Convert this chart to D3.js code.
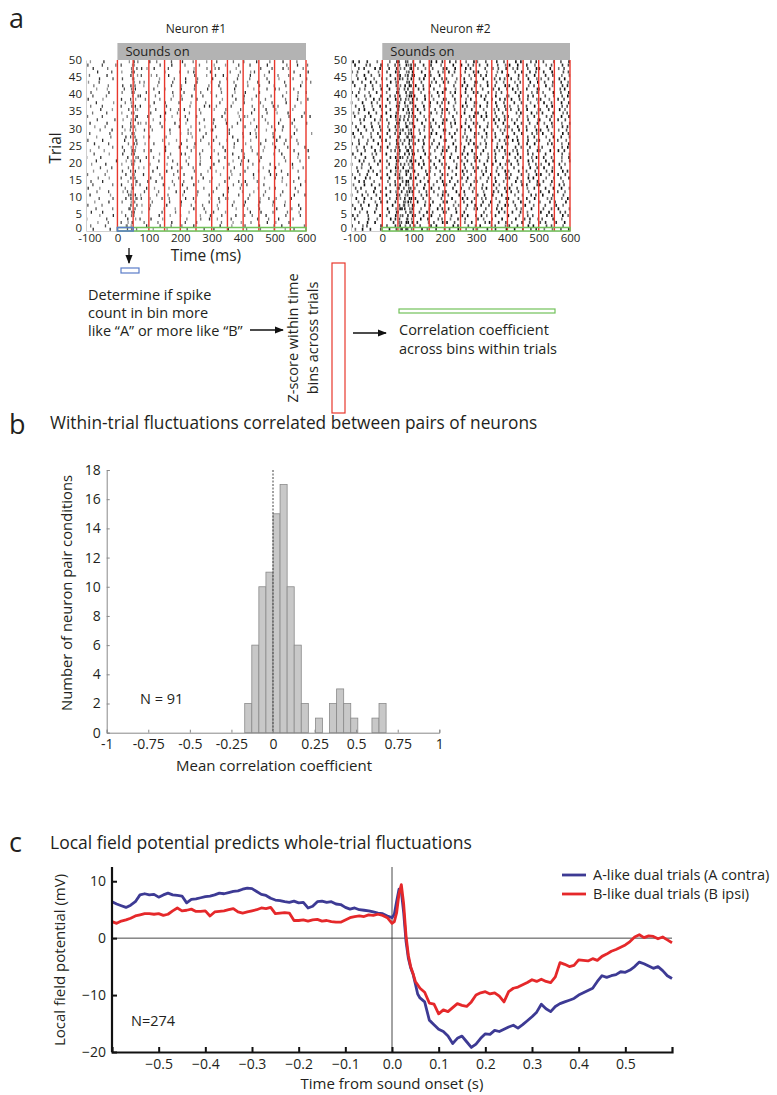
<!DOCTYPE html>
<html>
<head>
<meta charset="utf-8">
<script src="https://cdn.jsdelivr.net/npm/d3@7"></script>
<style>
  body { margin: 0; background: #fff; }
  svg text { font-family: "Open Sans", "Noto Sans", sans-serif; fill: #231f20; }
</style>
</head>
<body>
<svg id="fig" width="777" height="1095"></svg>
<script>
// ---------- panel a: spike rasters (10 ms bins from -100 ms, digit = ms offset in bin)
const neuron1 = [
  "..3....7.....25.1....4...8......2....6..7....3.....1...5...9...4..2...",
  ".5....2.....814....3...6...1..5...3.......7...4...6....2...8..3......5",
  "...8...1...2.47...5...9....3...6...2.......1..8..4..5....7..4...6.....",
  "2.....6......3.8.2..7...4.......1...5..3.8....2.......6...1..3...9....",
  "....4...7...6.52.......3..8...1.....4..6...2...7..5.9....3.....6....2.",
  ".7...3.....4..63.8......2...5...8.....1.6...4.......3..7...5....1..8..",
  "...2....5....716....2...9...4.....3..6....1....8...4...2....7....5..3.",
  "6....1........3.28..5....7....2..5...1...8....6...3...9....4...2...7...",
  "..8....3...5..45.....1....6...3...8....2..5....1..7....3...6...4......",
  "....2...6...7.3826..4...2.5....7..2....9..3.51.....6...4..2.5....3....",
  ".3.....8.....637.4....5...1...8....4...2...7....6...1...5....9....3..7",
  "...5...2...8.24...6....1....7..3...6....5....2...8...4...1....6....5..",
  "7...4.......5.71...3.8....4.....2....5...6...3...1....8...4.2.....6...",
  "..2.....5..3..58.2......6...1.7...3.......4...9..5.2....6......8....3.",
  ".6...3.......4.92..7..3....5...1...8...4....2...6.7...5.......4...1..8",
  "...9...4...2..36....6...2....5...7...3..1....6.......4..8...2.5....7..",
  "5.....1.....7.84..3....5...9...2....6.....8...4..1...3....7.6...2.....",
  "..4...8....6..27.....3...7...2....5...8..4....1...6...9...3...2....5..",
  "....6...2....5.18.4...7....3..5...1....6...8...2...5....4...3....8...1",
  ".8....3....4..62....4....8...1..6...3...7....5...2...1....6..4...7....",
  "...3.....7..8.45.3.....2...6...9....4.....3...8..5.7...2.......5....1.",
  "2...7........3.96..2.5....1.....8...4..7....2...6.3....7.......1...4..9",
  "..6....4...7..53.......4..9...36....2.....1...7...4...5....8..3....6...",
  ".4...8......2.76..5.7....3.......5...1..8...3....6..9...4....5....2...7",
  "....1...5..6..48.........3...7..2.4....9...6...1....5...8...3...2....7...",
  "..7....2.....5.32.8..6....4...3...7....1..5....2..8....6...4...1...5..",
  "6....3......3..81.......4...8...1...5...6...9...3...4....2..7..6...1...",
  "...4...9....7.26..4.2....5.......8...3...5....7...1...2....6.7...4.....",
  ".2.....6...5..74..........8...1.54....2......6...9..3.1....5......3....8.",
  "....5...3...4.18..6..1....7.....5...2..93....6.......8...4..2.5....1...",
  "..8...1....6..35....5...2....7...4...8...2....5...6...3....1..7...4...",
  ".3....7.......2.64.1...6....3..8....1...5...7...2...4....9...3...6....2",
  "...6.....2.8..47.....4...1...8..3....6..7...4....2...5...1...9....3...",
  "5....2.......1.93..7...7...4...6...2.......3....8.54....1.......6...7..3",
  "..1...6....4..52....6....3...1..9...5.......2...4...7....6..8...3....5.",
  "....7...4....6.84.....2...9..5.3....1...8...5....2...6...3..4....8....",
  ".5...2.....2..67.3..4....6.......1...7.3.5....2.....9...4..6.1....5...",
  "...3....8...5.41.....7...2...6...4....1...6...8...3....5...2...7....4.",
  "7....4.....3..28..9....5...1..6....3.......4...7..2.8....1.....5...3..6",
  "..2...5.......8.63....1....8..4..7...2...5....6...3...2...9...6....4...",
  ".6.....3...5..74...2...3...6...2....5..8...1...4..7....2.......8...5..1",
  "...4..8.....2.57.....6...1....3...5...7...9....3.....4...6..25....1....",
  "..5....1...7..36..4...8....2..4...6....1..3....7...5...2...9...6....3.",
  "8...2..........4.15....2...6...7...3...9..6....1...4..7...3....2....8..5",
  "....3...6..6..82.......4....1..7...5....3...8...2...1....6...4...9....2",
  ".1....7.......3.46..8.5...3.......6...4..2.7....5...3...8....1..5...2...",
  "...7....2..4..63.........1...8..5.3....6.....9...1..46....3.......2...7...",
  "..3...9.......5.27.4.7....2.......4...5..13....8.......6...2..7.4....1...",
  "6....2...5.2..84.......6...3...5....1...8...4...6...2....7.....9...3..5",
  ".4...7.......8.35...3.5....2..7...1...4..6....9...2...3...5...7....1..."
];
const neuron2 = [
  ".4.7..2..5..3.583614..7.4..2.9.5..3.8..14..6..2..7..3.9..5.2.8..4..1.6",
  "3..8.1...6.5..27.49.4.1..6.3....7.2..5.8.3..9.1..46..2..7.3...5.1..8..",
  "..5..3.7.....6.41736.2..8.5..37..1..4.6...9.3..2.5.4..7..1..5.2..6..3.",
  ".2...6..4...7.25.814..3.6..9.1.8..2.5...6.4..1..3...7..5.2.8.1..6..4..",
  "6.1..5...3.4..385.275..2.7..4...1..6.3.9.7.4..2...3..8..5.1...6.2..7.4",
  "..8..2.6....2.61.594.9..3.1..64..7..2.....5.8..3.1.6..2.4...7..3..9.5.",
  ".3.6....1..7..473286..4..1.7.2.2.5..8..43..1..6.2...9.4..7...5..1.3..8",
  "5..2.7..3....3.581471..6.3..5...8.4..2.7.6..1.9..32.5..7..4...1..6.8..",
  "..4.1..8.6.6..2.9431.3.8..2..57..4..1.6...2.7..5.8.9..3..1..4..6.2..7.",
  ".7..3.5..2..4.68.2736..1.4..9...3..7.2.5.8.1..4..63..5..2.7...8.1..4.3",
  "2..6.4..1..3..75.418..5.2..8.3.1..6.4...5.7..3..2...4.8..6.1.3..5..9..",
  "..1.8..3.5..6.4.2976.8..1.5..43..7..2.9...4..6.1.7.2.5..8...6..3..1.4.",
  ".5.2...7...2..839.514..3.7..1...6..2.8.4.9.3..5..27..1..4.6...2.7..3.8",
  "8...3.6..1..5.27.648.1.6..4..75..2.8..3...1..6.4.9.4..7.2..53..8..6.1.",
  "..6.2..4...8..1.5739..2.7..5.3.6..1.9..42..5..3.8...7.4..1.6.5..2..8..",
  ".3..7.1..6..3.964.827..4.1..6...2..5.3.8.4.9..1..56..2..7.3...4.8..1.7",
  "4.8..2..3..6..25.7.1.5..3.8..29..6..1.4...3.7..2.6.1..5.8..37..4..2.5.",
  "..2..6.1.4..7.48.6393..9.2..5...4..7.1.6.8.2..5..34..6..1.9...5.3..7.2",
  ".9.4..3....4..317.85..6..4.2.8.3.7..5..16..2..8.4...1.9..3.5.7..4..2..",
  "2..5.8..6...2.59.146.7.3..6..14..8..2.5...6..3.7.4.2.5..9..18..3..6.4.",
  "..7.1..5.3.5..62.8936..1.5..3...9..4.2.7.1.6..3..85..2..7.1...3.6..4.9",
  ".4..6..2....6.375.14..3.8..1.6.7..2.5..43..9..1.6...5.2..8.3.6..1..4.7",
  "6..3..8.1..3..84.2672..7.4..9...1..6.3.5.5.8..2..47..3..6.1...2.9..5.8",
  "..1.5..7.4..8.16.935.4.2..8..36..5..1.7...3..9.4.2.8.1..5..64..7..3.2.",
  ".8..2.6..5.7..43.581..9..2.6.4.2.6..3..85..1..7.3...6.4..2.9.1..8..5.3",
  "3.6..1..7...4.725.685..3.9..2...7..1.6.3.4.2..8..51..6..3.7...9.2..4.6",
  "..5..4.2.9.2..68.174.6.1..5..83..4..9.2...8..2.5.1.7.3..6..42..5..1.8.",
  ".1.8..5..3..5.93.8264..6.2..7...3..8.1.5.9.4..2..73..1..5.6...4.7..2.8",
  "7..2..4.6..6..17.453..1..7.3.9.5.2..4..68..3..1.5...2.6..9.4.3..1..7.5",
  "..3.9..1.5..3.586.42.8.4..1..62..9..5.3...6..4.8.1.5.7..2..36..1..4.9.",
  ".6..3.7..2.8..24.7193..5.6..2...1..3.7.8.2.6..9..45..3..1.8...7.4..6.2",
  "4..1..5.8...1.73.586..7..4.1.3.9.3..6..24..8..2.7...3.5..1.6.8..2..4.9",
  "..9.2..6.4.5..469.28.2.9..3..56..1..8.4...5..7.3.2.4.1..6..83..6..2.5.",
  ".2..5.3..7..7.38.1545..4.1..8...6..2.9.3.7.3..5..12..8..4.6...5.1..3.7",
  "8.4..7..1..3..51.867..2..6.4.1.4.8..3..76..2..1.5...9.3..7.4.2..6..8.1",
  "..6.3..2.8..6.927.35.3.5..9..27..1..4.6...4..8.2.5.1.6..3..95..2..7.4.",
  ".5..1.8..3.2..63.4186..3.2..5...8..7.1.4.3.5..6..28..4..1.7...6.3..5.1",
  "2..7..6.4...4.85.296..8..3.6.1.2.4..7..51..6..3.9...2.5..4.8.7..1..3.6",
  "..4.8..3.1.7..39.547.1.7..4..64..2..8.3...7..1.6.2.3.9..5..46..4..2.1.",
  ".7..4.2..6..5.16.8733..6.8..1...5..2.4.9.6.1..3..84..7..6.2...1.8..5.3",
  "3.5..8..2..4..72.695..4..1.7.3.8.3..6..25..9..4.1...6.2..8.5.4..7..1.6",
  "..8.4..1.7..3.84.129.6.2..5..93..4..7.6...1..5.3.8.7.4..2..61..5..9.3.",
  ".2..6.9..4.6..58.3727..1.3..4...9..6.2.5.4.7..1..36..2..8.5...3.4..6.2",
  "6..5..3.1...7.41.968..5..8.2.6.1.4..3..72..6..5.8...4.1..3.7.9..5..2.4",
  "..2.7..4.9.4..265.13.9.3..6..15..8..2.4...3..9.6.1.2.5..7..48..1..6.3.",
  ".8..3.5..1..6.97.4262..7.5..3...4..1.8.6.5.2..4..93..6..1.7...2.5..4.8",
  "4.1..6..8..5..34.857..6..2.9.4.3.1..5..27..4..8.3...5.6..2.1.6..3..9.5",
  "..5.2..7.3..2.68.193.4.8..1..56..3..7.2...9..4.1.6.8.2..5..32..7..4.1.",
  ".3..9.1..6.8..15.7425..2.6..8...7..3.5.1.1.6..9..47..3..2.8...4.1..6.5",
  "7.6..2..4...4.73.518..1..7.3.2.6.5..8..34..1..6.9...7.3..5.2.5..8..1.7"
];
const trialTicks = [0, 5, 10, 15, 20, 25, 30, 35, 40, 45, 50];
const timeTicks = [-100, 0, 100, 200, 300, 400, 500, 600];
const binBoundsMs = [0, 50, 100, 150, 200, 250, 300, 350, 400, 450, 500, 550, 600];

// ---------- panel b: histogram
const binStarts = [-0.17, -0.1275, -0.085, -0.0425, 0, 0.0425, 0.085, 0.1275, 0.17, 0.2125,
                   0.255, 0.2975, 0.34, 0.3825, 0.425, 0.4675, 0.51, 0.5525, 0.595, 0.6375];
const binCounts = [2, 6, 10, 11, 15, 17, 10, 6, 2, 0, 1, 0, 2, 3, 2, 1, 0, 0, 1, 2];
const histXTicks = [-1, -0.75, -0.5, -0.25, 0, 0.25, 0.5, 0.75, 1];
const histYTicks = [0, 2, 4, 6, 8, 10, 12, 14, 16, 18];

// ---------- panel c: LFP traces
const lfpTime = [
  -0.60, -0.59, -0.58, -0.57, -0.56, -0.55, -0.54, -0.53, -0.52, -0.51,
  -0.50, -0.49, -0.48, -0.47, -0.46, -0.45, -0.44, -0.43, -0.42, -0.41,
  -0.40, -0.39, -0.38, -0.37, -0.36, -0.35, -0.34, -0.33, -0.32, -0.31,
  -0.30, -0.29, -0.28, -0.27, -0.26, -0.25, -0.24, -0.23, -0.22, -0.21,
  -0.20, -0.19, -0.18, -0.17, -0.16, -0.15, -0.14, -0.13, -0.12, -0.11,
  -0.10, -0.09, -0.08, -0.07, -0.06, -0.05, -0.04, -0.03, -0.02, -0.01,
  0.000, 0.005, 0.010, 0.015, 0.020, 0.025, 0.030, 0.035, 0.040, 0.045, 0.050, 0.055, 0.060,
  0.07, 0.08, 0.09, 0.10, 0.11, 0.12, 0.13, 0.14, 0.15, 0.16, 0.17, 0.18, 0.19,
  0.20, 0.21, 0.22, 0.23, 0.24, 0.25, 0.26, 0.27, 0.28, 0.29,
  0.30, 0.31, 0.32, 0.33, 0.34, 0.35, 0.36, 0.37, 0.38, 0.39,
  0.40, 0.41, 0.42, 0.43, 0.44, 0.45, 0.46, 0.47, 0.48, 0.49,
  0.50, 0.51, 0.52, 0.53, 0.54, 0.55, 0.56, 0.57, 0.58, 0.59, 0.60
];
const lfpA = [
  6.4, 6.0, 5.7, 5.4, 5.8, 6.4, 7.6, 7.8, 7.6, 7.7,
  7.2, 7.6, 7.9, 7.6, 7.5, 7.4, 6.2, 6.8, 6.9, 7.1,
  7.3, 7.4, 7.6, 7.9, 7.8, 8.0, 8.2, 8.3, 8.6, 8.8,
  8.7, 8.2, 7.7, 7.5, 7.0, 6.7, 6.6, 6.4, 6.3, 6.5,
  6.2, 6.3, 5.3, 5.6, 6.4, 6.5, 6.3, 6.4, 6.0, 5.9,
  5.4, 5.1, 5.3, 5.0, 4.9, 4.8, 4.6, 4.4, 4.3, 3.9,
  3.6, 4.2, 6.5, 8.6, 8.2, 4.5, -0.5, -3.5, -5.2, -6.3, -8.0, -9.8, -10.5,
  -11.2, -14.4, -15.2, -16.0, -16.4, -17.2, -18.5, -17.6, -17.2, -18.2, -19.2, -18.6, -17.6,
  -16.8, -16.9, -16.2, -16.4, -16.0, -15.6, -15.3, -15.8, -15.2, -14.5,
  -13.8, -13.0, -11.6, -12.4, -12.9, -12.0, -11.5, -11.2, -10.9, -10.6,
  -10.0, -9.6, -9.2, -8.8, -7.6, -6.6, -6.9, -6.6, -6.4, -5.9,
  -6.0, -5.6, -5.0, -4.2, -4.5, -4.9, -5.3, -5.0, -5.7, -6.6, -7.1
];
const lfpB = [
  2.9, 2.6, 3.0, 3.2, 3.5, 3.9, 4.1, 4.3, 4.3, 4.2,
  4.3, 4.0, 4.2, 4.8, 5.3, 4.8, 4.9, 5.1, 4.7, 4.7,
  4.8, 3.9, 4.6, 4.7, 4.8, 5.0, 5.2, 4.6, 4.4, 4.6,
  4.8, 5.0, 5.3, 5.2, 5.4, 4.3, 4.4, 4.5, 4.4, 3.1,
  3.1, 3.2, 3.0, 3.2, 3.3, 3.0, 3.1, 2.9, 2.8, 2.8,
  3.2, 3.6, 3.8, 3.9, 3.8, 4.1, 4.0, 4.2, 4.0, 3.6,
  2.6, 2.9, 4.5, 7.8, 9.4, 6.0, 0.5, -3.0, -5.0, -6.2, -7.6, -8.2, -8.8,
  -9.5, -11.4, -11.6, -13.3, -12.6, -12.9, -12.2, -11.5, -11.8, -12.0, -11.2, -10.0, -9.6,
  -9.4, -9.8, -9.6, -10.2, -11.2, -9.4, -8.8, -8.6, -8.2, -7.8,
  -7.3, -7.6, -7.2, -7.6, -7.8, -6.8, -4.3, -4.6, -5.0, -4.8,
  -3.8, -3.9, -4.0, -3.6, -3.9, -3.2, -2.8, -2.3, -2.0, -1.6,
  -1.2, -0.6, 0.2, 0.6, 0.1, 0.4, 0.3, -0.1, 0.2, -0.3, -0.8
];
const lfpXTicks = [-0.5, -0.4, -0.3, -0.2, -0.1, 0, 0.1, 0.2, 0.3, 0.4, 0.5];
const lfpYTicks = [-20, -10, 0, 10];
const seriesNames = ["A-like dual trials (A contra)", "B-like dual trials (B ipsi)"];
const seriesColors = ["#3d3a94", "#e5282a"];

const svg = d3.select('#fig');
svg.append('rect').attr('width', 777).attr('height', 1095).attr('fill', '#fff');

function panelLetter(txt, x, y) {
  svg.append('text').attr('x', x).attr('y', y).style('font-size', '27px').text(txt);
}

// ---------------- panel a ----------------
panelLetter('a', 9, 28);

function decode(rows) {
  const out = [];
  rows.forEach((row, i) => {
    for (let j = 0; j < row.length; j++) {
      const c = row[j];
      if (c !== '.') out.push({ trial: i + 1, t: -100 + j * 10 + (+c), d: +c });
    }
  });
  return out;
}

function drawRaster(rows, left, right, opts) {
  const x = d3.scaleLinear().domain([-100, 600]).range([left, right]);
  const y = d3.scaleLinear().domain([0, 50]).range([231, 60]);
  const g = svg.append('g');

  g.append('text').attr('x', (left + right) / 2).attr('y', 33)
    .attr('text-anchor', 'middle').style('font-size', '12px').text(opts.title);

  // sounds-on bar
  g.append('rect').attr('x', x(0)).attr('y', 43).attr('width', x(600) - x(0)).attr('height', 17)
    .attr('fill', '#b3b3b3');
  g.append('text').attr('x', x(0) + 8).attr('y', 56).style('font-size', '13px').text('Sounds on');

  // spikes
  g.append('g').selectAll('line').data(decode(rows)).join('line')
    .attr('x1', d => x(d.t)).attr('x2', d => x(d.t))
    .attr('y1', d => y(d.trial) + 0.2).attr('y2', d => y(d.trial - 1) - 0.2)
    .attr('stroke', '#111').attr('stroke-width', opts.spikeW)
    .attr('stroke-opacity', d => opts.op + (d.d % 4) * 0.14);

  // axes
  const ya = g.append('g').attr('transform', `translate(${left},0)`)
    .call(d3.axisLeft(y).tickValues(trialTicks).tickSize(0).tickPadding(4));
  const xa = g.append('g').attr('transform', 'translate(0,231)')
    .call(d3.axisBottom(x).tickValues(timeTicks).tickSize(0).tickPadding(3).tickFormat(d => String(d)));
  [ya, xa].forEach(a => {
    a.select('.domain').attr('stroke', '#d0d0d0');
    a.selectAll('text').style('font-size', '11.5px').attr('fill', '#333');
  });
  // lift the "0" trial label a little so it clears the "-100" time label
  ya.selectAll('.tick').filter(d => d === 0).select('text').attr('dy', '0.05em');
  xa.selectAll('.tick').filter(d => d === -100).select('text').attr('dx', '0.3em');

  // bin boundaries
  g.append('g').selectAll('line').data(binBoundsMs).join('line')
    .attr('x1', d => x(d)).attr('x2', d => x(d)).attr('y1', 60).attr('y2', 231)
    .attr('stroke', '#e8372c').attr('stroke-width', 1.4);

  // trial window (green) and first bin (blue)
  g.append('rect').attr('x', x(0)).attr('y', 227.5).attr('width', x(600) - x(0)).attr('height', 3.5)
    .attr('fill', 'none').attr('stroke', '#72c25a').attr('stroke-width', 1.5);
  if (opts.blueBin) {
    g.append('rect').attr('x', x(0)).attr('y', 227.5).attr('width', x(50) - x(0)).attr('height', 3.5)
      .attr('fill', 'none').attr('stroke', '#5a7cc8').attr('stroke-width', 1.5);
  }
  return x;
}

drawRaster(neuron1, 86, 306, { title: 'Neuron #1', spikeW: 1.3, op: 0.45, blueBin: true });
drawRaster(neuron2, 351, 570, { title: 'Neuron #2', spikeW: 1.6, op: 0.6, blueBin: false });

svg.append('text').attr('transform', 'translate(61,148) rotate(-90)').attr('text-anchor', 'middle')
  .style('font-size', '15.5px').text('Trial');
svg.append('text').attr('x', 206).attr('y', 261).attr('text-anchor', 'middle')
  .style('font-size', '15.5px').text('Time (ms)');

// flow diagram
svg.append('defs').append('marker').attr('id', 'arr').attr('viewBox', '0 0 10 10')
  .attr('refX', 9).attr('refY', 5).attr('markerWidth', 7).attr('markerHeight', 7).attr('orient', 'auto')
  .append('path').attr('d', 'M0,1 L10,5 L0,9 Z').attr('fill', '#111');

function arrow(x1, y1, x2, y2) {
  svg.append('line').attr('x1', x1).attr('y1', y1).attr('x2', x2).attr('y2', y2)
    .attr('stroke', '#111').attr('stroke-width', 1.3).attr('marker-end', 'url(#arr)');
}
arrow(129, 248, 129, 263);
svg.append('rect').attr('x', 121).attr('y', 268).attr('width', 18).attr('height', 5)
  .attr('fill', 'none').attr('stroke', '#5a7cc8').attr('stroke-width', 1.2);

const flowText = ['Determine if spike', 'count in bin more', 'like \u201cA\u201d or more like \u201cB\u201d'];
flowText.forEach((t, i) => {
  svg.append('text').attr('x', 88).attr('y', 300 + i * 18).style('font-size', '14.5px').text(t);
});
arrow(250, 330, 283, 330);

['Z-score within time', 'bins across trials'].forEach((t, i) => {
  svg.append('text').attr('transform', `translate(${298 + i * 20},338) rotate(-90)`)
    .attr('text-anchor', 'middle').style('font-size', '14.5px').text(t);
});
svg.append('rect').attr('x', 332).attr('y', 263).attr('width', 13).attr('height', 150)
  .attr('fill', 'none').attr('stroke', '#e8372c').attr('stroke-width', 1.2);
arrow(353, 333, 386, 333);
svg.append('rect').attr('x', 399).attr('y', 309).attr('width', 156).attr('height', 4)
  .attr('fill', 'none').attr('stroke', '#72c25a').attr('stroke-width', 1.2);
['Correlation coefficient', 'across bins within trials'].forEach((t, i) => {
  svg.append('text').attr('x', 399).attr('y', 335 + i * 19).style('font-size', '14.5px').text(t);
});

// ---------------- panel b ----------------
panelLetter('b', 9, 434);
svg.append('text').attr('x', 50).attr('y', 429).style('font-size', '17.3px')
  .text('Within-trial fluctuations correlated between pairs of neurons');

const hx = d3.scaleLinear().domain([-1, 1]).range([106.7, 439.3]);
const hy = d3.scaleLinear().domain([0, 18]).range([732.7, 470]);
const binW = binStarts[1] - binStarts[0];
const hist = binStarts.map((s, i) => ({ s, n: binCounts[i] })).filter(d => d.n > 0);

svg.append('g').selectAll('rect').data(hist).join('rect')
  .attr('x', d => hx(d.s)).attr('y', d => hy(d.n))
  .attr('width', d => hx(d.s + binW) - hx(d.s)).attr('height', d => hy(0) - hy(d.n))
  .attr('fill', '#c8c8c8').attr('stroke', '#8a8a8a').attr('stroke-width', 0.8);

svg.append('line').attr('x1', hx(0)).attr('x2', hx(0)).attr('y1', hy(18)).attr('y2', hy(0))
  .attr('stroke', '#444').attr('stroke-width', 1).attr('stroke-dasharray', '2,1.5');

const hxa = svg.append('g').attr('transform', `translate(0,${hy(0)})`)
  .call(d3.axisBottom(hx).tickValues(histXTicks).tickSize(-3).tickPadding(6).tickFormat(d => String(d)));
const hya = svg.append('g').attr('transform', `translate(${hx(-1)},0)`)
  .call(d3.axisLeft(hy).tickValues(histYTicks).tickSize(-3).tickPadding(6));
[hxa, hya].forEach(a => {
  a.select('.domain').attr('stroke', '#888');
  a.selectAll('line').attr('stroke', '#888');
  a.selectAll('text').style('font-size', '14px').attr('fill', '#333');
});

svg.append('text').attr('transform', 'translate(72,593) rotate(-90)').attr('text-anchor', 'middle')
  .style('font-size', '14.8px').text('Number of neuron pair conditions');
svg.append('text').attr('x', 274).attr('y', 771).attr('text-anchor', 'middle')
  .style('font-size', '15px').text('Mean correlation coefficient');
svg.append('text').attr('x', 140).attr('y', 704).style('font-size', '14.5px').text('N = 91');

// ---------------- panel c ----------------
panelLetter('c', 9, 852);
svg.append('text').attr('x', 50).attr('y', 849).style('font-size', '17.5px')
  .text('Local field potential predicts whole-trial fluctuations');

const cx = d3.scaleLinear().domain([-0.6, 0.6]).range([112, 672]);
const cy = d3.scaleLinear().domain([-20, 12.5]).range([1052, 867]);

svg.append('line').attr('x1', cx(-0.6)).attr('x2', cx(0.6)).attr('y1', cy(0)).attr('y2', cy(0))
  .attr('stroke', '#333').attr('stroke-width', 0.9);
svg.append('line').attr('x1', cx(0)).attr('x2', cx(0)).attr('y1', cy(12.5)).attr('y2', cy(-20))
  .attr('stroke', '#333').attr('stroke-width', 0.9);

const line = d3.line().x((d, i) => cx(lfpTime[i])).y(d => cy(d));
[lfpA, lfpB].forEach((s, k) => {
  svg.append('path').datum(s).attr('d', line).attr('fill', 'none')
    .attr('stroke', seriesColors[k]).attr('stroke-width', 2.8).attr('stroke-linejoin', 'round');
});

const cxa = svg.append('g').attr('transform', `translate(0,${cy(-20)})`)
  .call(d3.axisBottom(cx).tickValues(lfpXTicks).tickSize(-5).tickPadding(7));
const cya = svg.append('g').attr('transform', `translate(${cx(-0.6)},0)`)
  .call(d3.axisLeft(cy).tickValues(lfpYTicks).tickSize(-5).tickPadding(6));
[cxa, cya].forEach(a => {
  a.select('.domain').attr('stroke', '#111').attr('stroke-width', 2.2);
  a.selectAll('line').attr('stroke', '#111').attr('stroke-width', 2);
  a.selectAll('text').style('font-size', '14px').attr('fill', '#222');
});
cya.select('.domain').attr('d', `M0,${cy(12.5)}V${cy(-20)}`);

svg.append('text').attr('transform', 'translate(65,960) rotate(-90)').attr('text-anchor', 'middle')
  .style('font-size', '15px').text('Local field potential (mV)');
svg.append('text').attr('x', 392).attr('y', 1089).attr('text-anchor', 'middle')
  .style('font-size', '15px').text('Time from sound onset (s)');
svg.append('text').attr('x', 131).attr('y', 1026).style('font-size', '14.5px').text('N=274');

seriesNames.forEach((n, k) => {
  const yy = 875 + k * 19;
  svg.append('line').attr('x1', 562).attr('x2', 586).attr('y1', yy).attr('y2', yy)
    .attr('stroke', seriesColors[k]).attr('stroke-width', 2.8);
  svg.append('text').attr('x', 593).attr('y', yy + 5).style('font-size', '14.5px').text(n);
});
</script>
</body>
</html>
